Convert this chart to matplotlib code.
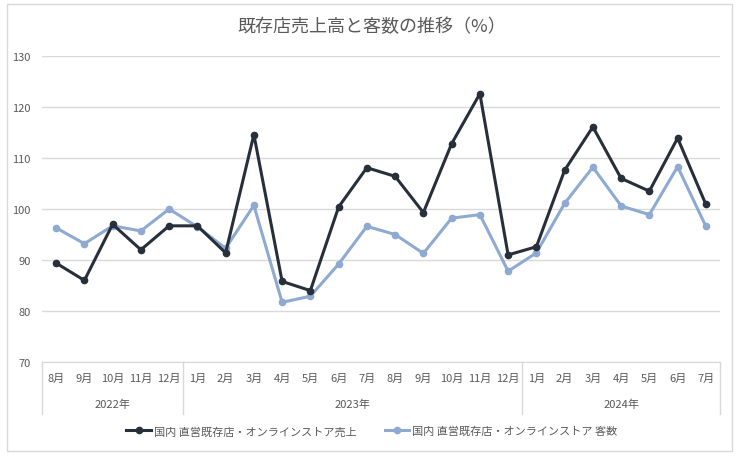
import numpy as np
import matplotlib
matplotlib.use('Agg')
import matplotlib.pyplot as plt
from matplotlib.patches import Rectangle
from matplotlib.lines import Line2D
import matplotlib.transforms as mtransforms

plt.rcParams['font.family'] = ['Noto Sans CJK JP', 'DejaVu Sans']

# data
months = ['8月', '9月', '10月', '11月', '12月',
          '1月', '2月', '3月', '4月', '5月', '6月', '7月', '8月', '9月', '10月', '11月', '12月',
          '1月', '2月', '3月', '4月', '5月', '6月', '7月']
years = ['2022年', '2023年', '2024年']
year_counts = [5, 12, 7]
sales = [89.4, 86.0, 97.0, 92.0, 96.7,
         96.7, 91.4, 114.6, 85.8, 84.0, 100.4, 108.1, 106.4, 99.3, 112.8, 122.6, 91.0,
         92.6, 107.6, 116.1, 106.0, 103.5, 113.9, 100.9]
customers = [96.3, 93.2, 96.7, 95.7, 100.0,
             96.5, 92.3, 100.7, 81.7, 82.9, 89.2, 96.6, 95.0, 91.3, 98.2, 98.9, 87.8,
             91.4, 101.1, 108.2, 100.6, 98.9, 108.3, 96.6]
label_sales = '国内 直営既存店・オンラインストア売上'
label_cust = '国内 直営既存店・オンラインストア 客数'

W, H = 744, 460
fig = plt.figure(figsize=(W / 100, H / 100), dpi=100)
fig.patches.append(Rectangle((7 / W, 1 - 452 / H), 725 / W, 447 / H, transform=fig.transFigure,
                             fill=False, edgecolor='#d9d9d9', lw=1))

ax = fig.add_axes([42 / W, 1 - 363 / H, 678 / W, 306 / H])
x = np.arange(len(months))
dark, light = '#27303a', '#8eaad2'
ax.plot(x, customers, color=light, lw=2.2, marker='o', ms=4.5, label=label_cust, zorder=3)
ax.plot(x, sales, color=dark, lw=2.2, marker='o', ms=4.5, label=label_sales, zorder=4)

ax.set_xlim(-0.5, len(months) - 0.5)
ax.set_ylim(70, 130)
ax.set_yticks(np.arange(70, 131, 10))
ax.grid(axis='y', color='#d9d9d9', lw=1)
ax.set_axisbelow(True)
for s in ['top', 'right', 'left']:
    ax.spines[s].set_visible(False)
ax.spines['bottom'].set_color('#d9d9d9')
ax.tick_params(axis='y', length=0, labelsize=8, labelcolor='#595959', pad=8)
ax.tick_params(axis='x', length=0, labelsize=8, labelcolor='#595959', pad=8)
ax.set_xticks(x)
ax.set_xticklabels(months)

trans = mtransforms.blended_transform_factory(ax.transData, ax.transAxes)
bottom = -52 / 306
bounds = np.concatenate([[0], np.cumsum(year_counts)]) - 0.5
for b in bounds:
    ax.plot([b, b], [0, bottom], color='#d9d9d9', lw=1, transform=trans, clip_on=False)
for i, yr in enumerate(years):
    ax.text((bounds[i] + bounds[i + 1]) / 2, -42 / 306, yr, transform=trans,
            ha='center', va='center', fontsize=8, color='#595959')

fig.text(0.5, 1 - 27 / H, '既存店売上高と客数の推移（%）', ha='center', va='center',
         fontsize=13, color='#595959')

handles = [Line2D([], [], color=dark, lw=2.2, marker='o', ms=4.5),
           Line2D([], [], color=light, lw=2.2, marker='o', ms=4.5)]
fig.legend(handles, [label_sales, label_cust], loc='center', bbox_to_anchor=(372 / W, 1 - 432 / H),
           ncol=2, frameon=False, fontsize=8, labelcolor='#595959', handlelength=2.2,
           columnspacing=2.5, handletextpad=0.3)

fig.savefig('out.png', dpi=100)
